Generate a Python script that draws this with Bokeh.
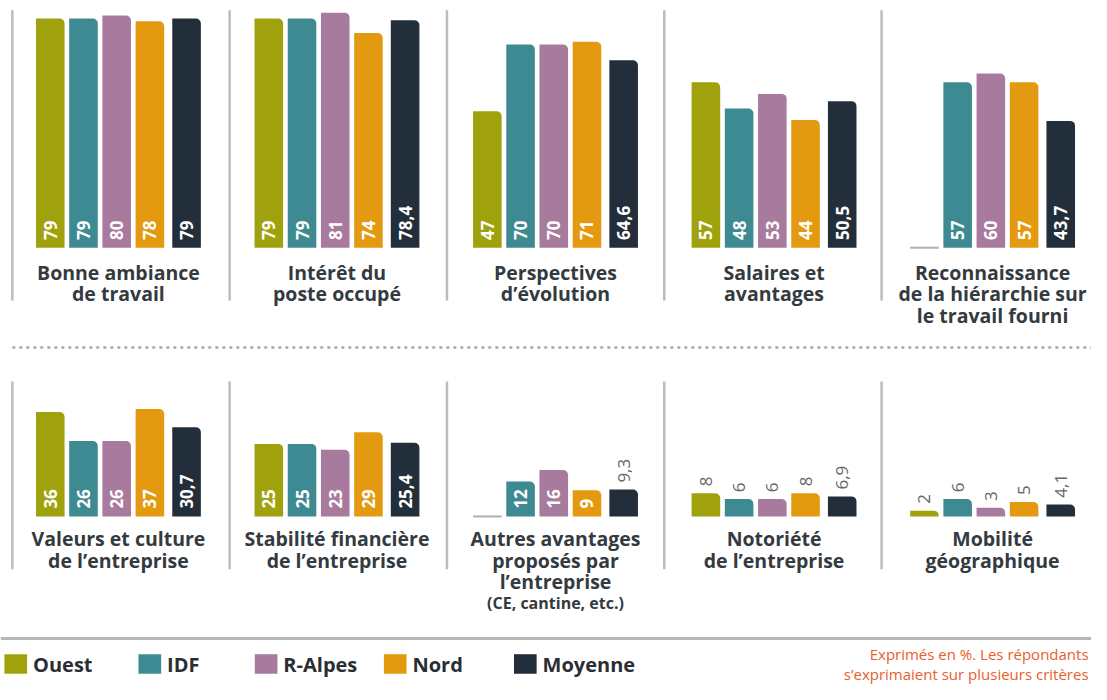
from bokeh.plotting import figure
from bokeh.models import Range1d, ColumnDataSource
from bokeh.core.properties import value
from bokeh.embed import file_html
from bokeh.resources import INLINE
import math

# ---------------- data ----------------
regions = ["Ouest", "IDF", "R-Alpes", "Nord", "Moyenne"]
colors = ["#9fa20d", "#3e8a92", "#a87a9e", "#e49a10", "#232e3b"]

criteria = [
    "Bonne ambiance\nde travail",
    "Intérêt du\nposte occupé",
    "Perspectives\nd’évolution",
    "Salaires et\navantages",
    "Reconnaissance\nde la hiérarchie sur\nle travail fourni",
    "Valeurs et culture\nde l’entreprise",
    "Stabilité financière\nde l’entreprise",
    "Autres avantages\nproposés par\nl’entreprise\n(CE, cantine, etc.)",
    "Notoriété\nde l’entreprise",
    "Mobilité\ngéographique",
]
ouest   = [79, 79, 47, 57, None, 36, 25, None, 8, 2]
idf     = [79, 79, 70, 48, 57, 26, 25, 12, 6, 6]
ralpes  = [80, 81, 70, 53, 60, 26, 23, 16, 6, 3]
nord    = [78, 74, 71, 44, 57, 37, 29, 9, 8, 5]
moyenne = [79, 78.4, 64.6, 50.5, 43.7, 30.7, 25.4, 9.3, 6.9, 4.1]
series = [ouest, idf, ralpes, nord, moyenne]

legend_labels = regions
footnote = ["Exprimés en %. Les répondants", "s’exprimaient sur plusieurs critères"]

# ---------------- layout helpers ----------------
REF_W, REF_H = 1107, 700
PX = 2.97             # reference pixels per unit
BASE_PY = [253, 528]  # reference y of the two baselines


def Y(py):
    return (BASE_PY[0] - py) / PX


bases = [Y(BASE_PY[0]), Y(BASE_PY[1])]

W, H = 1091, 684
p = figure(width=W, height=H, x_range=Range1d(0, REF_W), y_range=Range1d(Y(REF_H), Y(0)),
           output_backend="svg", toolbar_location=None, min_border=0,
           x_axis_type=None, y_axis_type=None, outline_line_color=None)
p.grid.visible = False
p.background_fill_color = "white"
p.border_fill_color = "white"

FONT = value("Open Sans")


def bar_left(panel, i):
    return 36 + 221.75 * panel + 33.7 * i + (3.5 if i == 4 else 0)


BW = 29

# separators
for row in range(2):
    y0, y1 = (10, 307) if row == 0 else (390, 582)
    xs = [12 + 220.5 * k for k in range(5)]
    p.segment(x0=xs, x1=xs, y0=[Y(y0)] * 5, y1=[Y(y1)] * 5, line_color="#b9bcc3", line_width=2.5)

# dotted separator and bottom line
p.segment(x0=[12], x1=[1107], y0=[Y(355)], y1=[Y(355)], line_color="#a8a8a8", line_width=2.5,
          line_dash="3 4")
p.segment(x0=[0], x1=[1107], y0=[Y(653)], y1=[Y(653)], line_color="#b4b6ba", line_width=3)

bx, bb, bt, bc = [], [], [], []
in_x, in_y, in_t = [], [], []
up_x, up_y, up_t = [], [], []
stub_x0, stub_x1, stub_y = [], [], []


def fmt(v):
    return ("%g" % v).replace(".", ",")


for c in range(len(criteria)):
    row = c // 5
    panel = c % 5
    base = bases[row]
    for i, s in enumerate(series):
        v = s[c]
        left = bar_left(panel, i)
        cx = left + BW / 2
        if v is None:
            stub_x0.append(left)
            stub_x1.append(left + BW)
            stub_y.append(base)
            continue
        bx.append(cx)
        bb.append(base)
        bt.append(base + v)
        bc.append(colors[i])
        lab = fmt(v)
        if v >= 9 and v * PX >= len(lab) * 11 + 8:
            in_x.append(cx)
            in_y.append(base + 8 / PX)
            in_t.append(lab)
        else:
            up_x.append(cx)
            up_y.append(base + v + 7 / PX)
            up_t.append(lab)

p.vbar(x="x", bottom="b", top="t", width=BW, fill_color="c", line_color=None,
       border_radius=[0, 5, 0, 0],
       source=ColumnDataSource(dict(x=bx, b=bb, t=bt, c=bc)))
p.segment(x0=stub_x0, x1=stub_x1, y0=stub_y, y1=stub_y, line_color="#aeb0b4", line_width=2)

p.text(x=in_x, y=in_y, text=in_t, angle=math.pi / 2, text_align="left", text_baseline="middle",
       text_color="white", text_font=FONT, text_font_style="bold", text_font_size="17px")
p.text(x=up_x, y=up_y, text=up_t, angle=math.pi / 2, text_align="left", text_baseline="middle",
       text_color="#666666", text_font=FONT, text_font_size="17px")

# category labels
lx, ly, lt, lsz = [], [], [], []
for c, name in enumerate(criteria):
    row = c // 5
    panel = c % 5
    cx = (bar_left(panel, 0) + bar_left(panel, 4) + BW) / 2
    first = BASE_PY[row] + (25 if row == 0 else 23)
    for k, line in enumerate(name.split("\n")):
        lx.append(cx)
        ly.append(Y(first + 22 * k))
        lt.append(line)
        lsz.append("16px" if line.startswith("(") else "19.5px")
src_lab = ColumnDataSource(dict(x=lx, y=ly, t=lt, s=lsz))
p.text(x="x", y="y", text="t", text_font_size="s", source=src_lab, text_align="center",
       text_baseline="middle", text_color="#333a40", text_font=FONT, text_font_style="bold")

# legend
leg_sq = [4, 140, 258, 389, 521]
p.rect(x=[s + 11.5 for s in leg_sq], y=[Y(679)] * 5, width=23, height=20 / PX,
       fill_color=colors, line_color=None)
p.text(x=[s + 29 for s in leg_sq], y=[Y(680)] * 5, text=legend_labels, text_align="left",
       text_baseline="middle", text_color="#2a2e33", text_font=FONT, text_font_style="bold",
       text_font_size="20px")

# footnote
p.text(x=[1104, 1104], y=[Y(669), Y(689)], text=footnote, text_align="right",
       text_baseline="middle", text_color="#e8602c", text_font=FONT, text_font_size="15px")

open("out.html", "w").write(file_html(p, INLINE))
